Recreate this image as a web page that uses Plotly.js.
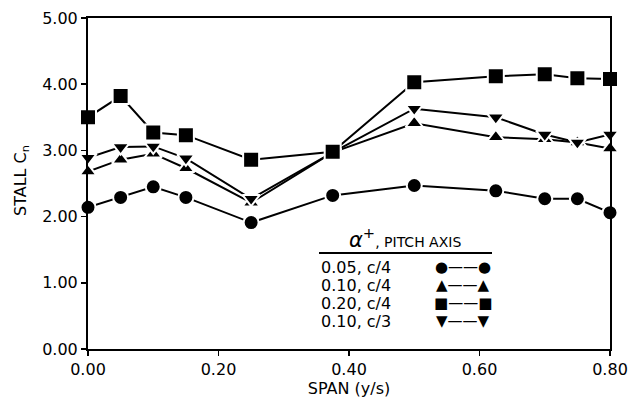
<!DOCTYPE html>
<html>
<head>
<meta charset="utf-8">
<script src="https://cdn.plot.ly/plotly-3.0.1.min.js"></script>
<style>html,body{margin:0;padding:0;background:#fff;}#chart{width:636px;height:403px;}</style>
</head>
<body>
<div id="chart"></div>
<script>
// span stations (y/s)
const span = [0, 0.05, 0.10, 0.15, 0.25, 0.375, 0.50, 0.625, 0.70, 0.75, 0.80];
// stall Cn per case
const cn_005_c4 = [2.14, 2.29, 2.45, 2.29, 1.91, 2.32, 2.47, 2.39, 2.27, 2.27, 2.06];
const cn_010_c4 = [2.68, 2.86, 2.95, 2.73, 2.21, 2.97, 3.41, 3.20, 3.17, 3.12, 3.03];
const cn_020_c4 = [3.50, 3.82, 3.27, 3.23, 2.86, 2.98, 4.03, 4.12, 4.15, 4.09, 4.08];
const cn_010_c3 = [2.89, 3.05, 3.06, 2.88, 2.27, 2.97, 3.63, 3.50, 3.24, 3.12, 3.24];

const seriesNames = ["0.05, c/4", "0.10, c/4", "0.20, c/4", "0.10, c/3"];
const seriesSymbols = ["circle", "triangle-up", "square", "triangle-down"];
const legendGlyphs = ["\u25CF\u2014\u2014\u25CF", "\u25B2\u2014\u2014\u25B2", "\u25A0\u2014\u2014\u25A0", "\u25BC\u2014\u2014\u25BC"];
const xTicks = [0, 0.2, 0.4, 0.6, 0.8];
const yTicks = [0, 1, 2, 3, 4, 5];

const seriesData = [cn_005_c4, cn_010_c4, cn_020_c4, cn_010_c3];
const sizes = [15, 15, 16, 15];
const drawOrder = [0, 1, 3, 2]; // square drawn last (on top)

const traces = drawOrder.map(i => ({
  x: span, y: seriesData[i], type: 'scatter', mode: 'lines+markers',
  name: seriesNames[i],
  cliponaxis: false,
  line: {color: '#000', width: 2},
  marker: {symbol: seriesSymbols[i], size: sizes[i], color: '#000', line: {color: '#fff', width: 2}}
}));

const font = "DejaVu Sans, sans-serif";
const L = 88, R = 610, T = 18, B = 349;
const px = v => (v - L) / (R - L);
const py = v => (B - v) / (B - T);

const annotations = [
  {xref: 'paper', yref: 'paper', x: px(405), y: py(238), xanchor: 'center', yanchor: 'middle', showarrow: false,
   text: "<i>α</i><sup>+</sup><span style='font-size:14px'>, PITCH AXIS</span>",
   font: {family: font, size: 21, color: '#000'}},
  {xref: 'paper', yref: 'paper', x: px(21), y: py(181), xanchor: 'center', yanchor: 'middle', showarrow: false,
   textangle: -90, text: 'STALL C<sub>n</sub>', font: {family: font, size: 16, color: '#000'}}
];
const rowY = [267, 285, 303, 321];
seriesNames.forEach((n, i) => {
  annotations.push({xref: 'paper', yref: 'paper', x: px(319), y: py(rowY[i]), xanchor: 'left', yanchor: 'middle',
    showarrow: false, text: n, font: {family: font, size: 16, color: '#000'}});
  annotations.push({xref: 'paper', yref: 'paper', x: px(463), y: py(rowY[i]), xanchor: 'center', yanchor: 'middle',
    showarrow: false, text: legendGlyphs[i], font: {family: font, size: 15, color: '#000'}});
});

const layout = {
  width: 636, height: 403,
  margin: {l: L, r: 636 - R, t: T, b: 403 - B},
  paper_bgcolor: '#fff', plot_bgcolor: '#fff',
  showlegend: false,
  font: {family: font, color: '#000'},
  xaxis: {
    range: [0, 0.8], tickvals: xTicks, tickformat: '.2f',
    showgrid: false, zeroline: false, showline: true, linecolor: '#000', linewidth: 2,
    mirror: true, ticks: 'outside', ticklen: 5, tickwidth: 1.5, tickcolor: '#000',
    tickfont: {family: font, size: 16, color: '#000'},
    title: {text: 'SPAN (y/s)', font: {family: font, size: 16, color: '#000'}, standoff: 1}
  },
  yaxis: {
    range: [0, 5], tickvals: yTicks, tickformat: '.2f',
    showgrid: false, zeroline: false, showline: true, linecolor: '#000', linewidth: 2,
    mirror: true, ticks: 'outside', ticklen: 5, tickwidth: 1.5, tickcolor: '#000',
    tickfont: {family: font, size: 16, color: '#000'}
  },
  shapes: [
    {type: 'line', xref: 'paper', yref: 'paper', x0: px(319), x1: px(492), y0: py(253), y1: py(253),
     line: {color: '#000', width: 2}}
  ],
  annotations: annotations
};

Plotly.newPlot('chart', traces, layout, {displayModeBar: false, staticPlot: true});
</script>
</body>
</html>
